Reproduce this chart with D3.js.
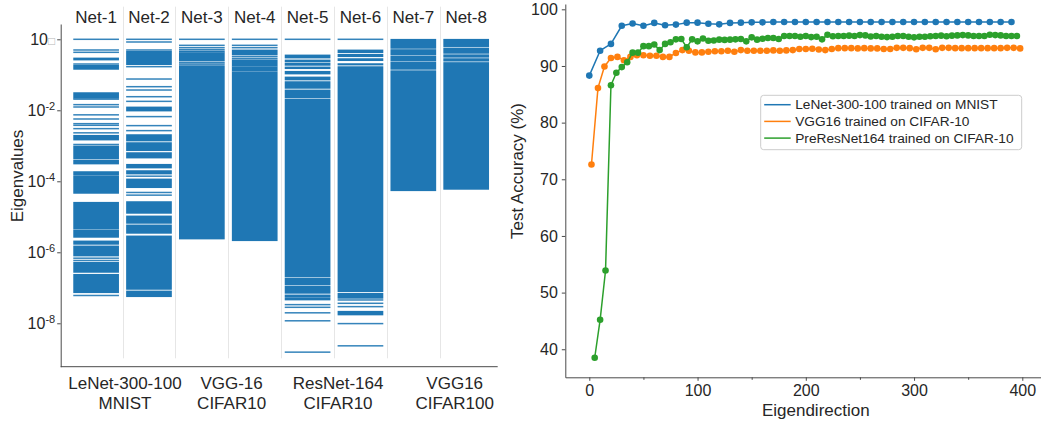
<!DOCTYPE html>
<html>
<head>
<meta charset="utf-8">
<script src="https://cdn.jsdelivr.net/npm/d3@7"></script>
<style>
  html, body { margin: 0; padding: 0; background: #fff; }
  svg { display: block; font-family: "Liberation Sans", Arial, sans-serif; }
</style>
</head>
<body>
<svg id="chart" width="1041" height="421"></svg>
<script>
// ---- left panel: eigenvalue spectra (log10 of eigenvalue) ----
const nets = ['Net-1', 'Net-2', 'Net-3', 'Net-4', 'Net-5', 'Net-6', 'Net-7', 'Net-8'];
const groupLabels = [['LeNet-300-100', 'MNIST'], ['VGG-16', 'CIFAR10'], ['ResNet-164', 'CIFAR10'], ['VGG16', 'CIFAR100']];
const groupAt = [0.545, 2.563, 4.577, 6.783]; // net-index units
const eigTicks = [0, -2, -4, -6, -8];

// single eigenvalues and dense bands [top, bottom]
const net1Lines = [0, -0.301, -0.367, -0.696, -1.686, -1.841, -1.907, -2.128, -2.245, -2.377, -2.423, -2.517, -2.635, -2.963, -6.166, -6.231, -7.217];
const net1Bands = [[-0.527, -0.583], [-0.733, -0.846], [-1.503, -1.663], [-2.705, -2.837], [-3.005, -3.362], [-3.4, -3.512], [-3.728, -3.813], [-3.841, -4.339], [-4.592, -5.343], [-5.372, -5.578], [-5.681, -5.775], [-5.822, -6.104], [-6.283, -6.565], [-6.621, -7.138]];
const net2Lines = [0, -0.076, -0.301, -0.771, -1.119, -1.335, -1.429, -1.617, -1.748, -2.178, -2.432, -2.573, -3.856, -4.315, -4.39];
const net2Bands = [[-0.339, -0.714], [-1.907, -2.02], [-2.686, -2.864], [-2.911, -3.137], [-3.193, -3.344], [-3.522, -3.625], [-3.7, -3.794], [-3.935, -4.179], [-4.573, -4.902], [-4.977, -5.184], [-5.23, -5.465], [-5.54, -7.044], [-7.091, -7.25]];
const net3Lines = [0, -0.17, -0.236, -0.292, -0.658, -0.70];
const net3Bands = [[-0.33, -0.36], [-0.377, -0.611], [-0.743, -5.625]];
const net4Lines = [0, -0.17, -0.236, -0.49, -0.546];
const net4Bands = [[-0.301, -0.442], [-0.583, -0.76], [-0.78, -0.90], [-0.925, -5.673]];
const net5Lines = [0, -7.475, -7.55, -7.705, -7.93, -8.813];
const net5Bands = [[-0.442, -0.527], [-0.583, -0.639], [-0.677, -0.733], [-0.78, -0.827], [-0.902, -0.977], [-1.062, -1.146], [-1.193, -1.381], [-1.428, -1.644], [-1.682, -6.686], [-6.724, -6.911], [-6.949, -7.155], [-7.202, -7.249], [-7.277, -7.343]];
const net6Lines = [0, -7.343, -7.437, -7.531, -8.009, -8.635];
const net6Bands = [[-0.301, -0.376], [-0.423, -0.489], [-0.545, -0.601], [-0.686, -0.724], [-0.771, -7.108], [-7.155, -7.296], [-7.662, -7.765]];
const net7Lines = [];
const net7Bands = [[0, -0.255], [-0.29, -0.445], [-0.48, -0.615], [-0.65, -0.845], [-0.885, -4.265]];
const net8Lines = [];
const net8Bands = [[0, -0.205], [-0.245, -0.395], [-0.435, -0.505], [-0.545, -0.615], [-0.655, -4.226]];

// ---- right panel: test accuracy vs eigendirection ----
const lenetX = [0, 10, 20, 30, 40, 50, 60, 70, 80, 90, 100, 110, 120, 130, 140, 150, 160, 170, 180, 190,
  200, 210, 220, 230, 240, 250, 260, 270, 280, 290, 300, 310, 320, 330, 340, 350, 360, 370, 380, 390];
const lenetAcc = [88.3, 92.7, 93.9, 97.1, 97.5, 97.1, 97.6, 97.2, 97.3, 97.65, 97.65, 97.45, 97.35, 97.6, 97.65, 97.7, 97.7, 97.75, 97.75, 97.75,
  97.75, 97.75, 97.75, 97.75, 97.75, 97.75, 97.75, 97.75, 97.75, 97.75, 97.75, 97.75, 97.75, 97.75, 97.75, 97.75, 97.75, 97.75, 97.75, 97.75];
const vggX = [2, 8, 14, 20, 26, 32, 38, 44, 50, 56, 62, 68, 74, 80, 86, 92, 98, 104, 110, 116, 122, 128, 134, 140, 146, 152,
  158, 164, 170, 176, 182, 188, 194, 200, 206, 212, 218, 224, 230, 236, 242, 248, 254, 260, 266, 272, 278, 284, 290, 296,
  302, 308, 314, 320, 326, 332, 338, 344, 350, 356, 362, 368, 374, 380, 386, 392, 398];
const vggAcc = [72.6, 86.1, 89.9, 91.4, 91.6, 91.0, 91.6, 91.9, 91.9, 91.8, 91.8, 91.6, 91.6, 92.3, 92.8, 92.7, 92.4, 92.4, 92.5, 92.6, 92.6, 92.7, 92.5, 92.8, 92.7, 92.7,
  92.7, 92.7, 92.75, 92.7, 92.75, 92.8, 93.0, 93.0, 93.05, 92.9, 92.8, 93.0, 93.15, 93.15, 93.15, 93.1, 93.15, 93.1, 93.1, 93.0, 93.0, 93.2, 93.2, 93.15,
  92.95, 93.2, 93.2, 92.95, 93.2, 93.2, 93.15, 93.15, 93.15, 93.15, 93.15, 93.15, 93.15, 93.15, 93.2, 93.2, 93.1];
const resX = [5, 10, 15, 20, 25, 30, 35, 40, 45, 50, 55, 60, 65, 70, 75, 80, 85, 90, 95, 100,
  105, 110, 115, 120, 125, 130, 135, 140, 145, 150, 155, 160, 165, 170, 175, 180, 185, 190, 195, 200,
  205, 210, 215, 220, 225, 230, 235, 240, 245, 250, 255, 260, 265, 270, 275, 280, 285, 290, 295, 300,
  305, 310, 315, 320, 325, 330, 335, 340, 345, 350, 355, 360, 365, 370, 375, 380, 385, 390, 395];
const resAcc = [38.5, 45.2, 53.9, 86.6, 88.8, 89.8, 90.65, 92.35, 92.35, 93.5, 93.5, 93.8, 92.8, 93.9, 94.2, 94.7, 94.75, 93.3, 94.7, 94.35,
  94.85, 94.45, 94.5, 94.65, 94.6, 94.65, 94.7, 94.75, 94.35, 95.05, 94.65, 94.8, 94.95, 94.95, 94.75, 95.3, 95.3, 95.3, 95.15, 95.3,
  95.1, 95.15, 94.7, 95.5, 95.25, 95.3, 95.3, 95.35, 95.3, 95.45, 95.4, 95.2, 95.3, 95.15, 95.1, 95.15, 95.3, 95.3, 95.15, 95.05,
  95.15, 95.15, 95.25, 95.3, 95.35, 95.25, 95.35, 95.4, 95.45, 95.4, 95.3, 95.3, 95.3, 95.5, 95.45, 95.4, 95.3, 95.3, 95.3];
const seriesNames = ['LeNet-300-100 trained on MNIST', 'VGG16 trained on CIFAR-10', 'PreResNet164 trained on CIFAR-10'];
const seriesColors = ['#1f77b4', '#ff7f0e', '#2ca02c'];
const accTicks = [40, 50, 60, 70, 80, 90, 100];
const dirTicks = [0, 100, 200, 300, 400];
const dirMinor = [50, 150, 250, 350];

const spectra = [
  { lines: net1Lines, bands: net1Bands }, { lines: net2Lines, bands: net2Bands },
  { lines: net3Lines, bands: net3Bands }, { lines: net4Lines, bands: net4Bands },
  { lines: net5Lines, bands: net5Bands }, { lines: net6Lines, bands: net6Bands },
  { lines: net7Lines, bands: net7Bands }, { lines: net8Lines, bands: net8Bands }
];
const series = [
  { x: lenetX, y: lenetAcc }, { x: vggX, y: vggAcc }, { x: resX, y: resAcc }
];

const svg = d3.select('#chart');
const ink = '#262626';
const spine = '#4a4a4a';
const barBlue = '#1f77b4';

svg.append('rect').attr('width', 1041).attr('height', 421).attr('fill', '#fff');

// ================= left panel =================
const xL = d3.scaleBand().domain(nets).range([66.1, 496.2]).padding(0.1356);
const yL = d3.scaleLog().domain([Math.pow(10, -9.223), Math.pow(10, 0.431)]).range([366.7, 24]);
const ey = e => yL(Math.pow(10, e));
const gapHalf = xL.step() * xL.padding() / 2;

const left = svg.append('g');

// light separators between nets
left.selectAll('line.sep')
  .data(nets.slice(1))
  .enter().append('line')
  .attr('class', 'sep')
  .attr('x1', d => Math.round(xL(d) - gapHalf) + 0.5)
  .attr('x2', d => Math.round(xL(d) - gapHalf) + 0.5)
  .attr('y1', 6.7)
  .attr('y2', 358.3)
  .attr('stroke', '#e6e6e6')
  .attr('stroke-width', 1);

const netG = left.selectAll('g.net')
  .data(spectra)
  .enter().append('g')
  .attr('class', 'net')
  .attr('transform', (d, i) => `translate(${xL(nets[i])},0)`);

netG.selectAll('rect.band')
  .data(d => d.bands)
  .enter().append('rect')
  .attr('class', 'band')
  .attr('x', 0)
  .attr('width', xL.bandwidth())
  .attr('y', d => ey(d[0]) - 0.4)
  .attr('height', d => ey(d[1]) - ey(d[0]) + 0.8)
  .attr('fill', barBlue);

netG.selectAll('rect.eig')
  .data(d => d.lines)
  .enter().append('rect')
  .attr('class', 'eig')
  .attr('x', 0)
  .attr('width', xL.bandwidth())
  .attr('y', d => ey(d) - 0.75)
  .attr('height', 1.5)
  .attr('fill', barBlue)
  .attr('opacity', 0.9);

// net labels on top
left.selectAll('text.netlab')
  .data(nets)
  .enter().append('text')
  .attr('class', 'netlab')
  .attr('x', d => xL(d) + xL.bandwidth() / 2)
  .attr('y', 22.5)
  .attr('text-anchor', 'middle')
  .attr('font-size', 17)
  .attr('fill', ink)
  .text(d => d);

// y axis with 10^k labels
const axL = left.append('g')
  .attr('transform', 'translate(60.7,0)')
  .call(d3.axisLeft(yL)
    .tickValues(eigTicks.map(e => Math.pow(10, e)))
    .tickSize(3.5)
    .tickSizeOuter(0)
    .tickPadding(2)
    .tickFormat(() => '10'));
axL.select('.domain').attr('stroke', spine);
axL.selectAll('.tick line').attr('stroke', spine);
axL.selectAll('.tick text')
  .attr('font-size', 16)
  .attr('font-family', '"Liberation Sans", Arial, sans-serif')
  .attr('fill', ink)
  .each(function (d, i) {
    const t = d3.select(this);
    const ex = eigTicks[i];
    if (ex === 0) {
      t.append('tspan').attr('font-size', 12).attr('fill', '#b8b8b8').text('\u25A1');
    } else {
      t.append('tspan').attr('dy', '-0.55em').attr('font-size', 11).text(String(ex));
    }
  });

// bottom spine
left.append('line')
  .attr('x1', 60.7).attr('x2', 497.7)
  .attr('y1', 366.7).attr('y2', 366.7)
  .attr('stroke', spine);

// group labels under the panel
const grpG = left.selectAll('text.grp')
  .data(groupLabels)
  .enter().append('text')
  .attr('class', 'grp')
  .attr('text-anchor', 'middle')
  .attr('font-size', 17)
  .attr('fill', ink);
grpG.append('tspan')
  .attr('x', (d, i) => xL(nets[0]) + xL.bandwidth() / 2 + groupAt[i] * xL.step())
  .attr('y', 389)
  .text(d => d[0]);
grpG.append('tspan')
  .attr('x', (d, i) => xL(nets[0]) + xL.bandwidth() / 2 + groupAt[i] * xL.step())
  .attr('y', 409)
  .text(d => d[1]);

left.append('text')
  .attr('transform', 'translate(23,176) rotate(-90)')
  .attr('text-anchor', 'middle')
  .attr('font-size', 17)
  .attr('fill', ink)
  .text('Eigenvalues');

// ================= right panel =================
const xR = d3.scaleLinear().domain([-22.17, 440]).range([565.3, 1065.6]);
const yR = d3.scaleLinear().domain([35.05, 100.94]).range([377.3, 4]);
const right = svg.append('g');

const axX = right.append('g')
  .attr('transform', 'translate(0,377.3)')
  .call(d3.axisBottom(xR).tickValues(dirTicks).tickSize(3.5).tickSizeOuter(0).tickPadding(4));
right.append('g')
  .attr('transform', 'translate(0,377.3)')
  .call(d3.axisBottom(xR).tickValues(dirMinor).tickSize(2.5).tickFormat(() => ''))
  .call(g => g.select('.domain').remove())
  .selectAll('line').attr('stroke', spine);
const axY = right.append('g')
  .attr('transform', 'translate(565.3,0)')
  .call(d3.axisLeft(yR).tickValues(accTicks).tickSize(3.5).tickSizeOuter(0).tickPadding(4));
[axX, axY].forEach(a => {
  a.select('.domain').attr('stroke', spine);
  a.selectAll('.tick line').attr('stroke', spine);
  a.selectAll('.tick text')
    .attr('font-size', 16)
    .attr('font-family', '"Liberation Sans", Arial, sans-serif')
    .attr('fill', ink);
});

const line = d3.line().x(d => xR(d[0])).y(d => yR(d[1]));
series.forEach((s, i) => {
  const pts = s.x.map((x, j) => [x, s.y[j]]);
  right.append('path')
    .datum(pts)
    .attr('fill', 'none')
    .attr('stroke', seriesColors[i])
    .attr('stroke-width', 1.5)
    .attr('stroke-linejoin', 'round')
    .attr('d', line);
  right.selectAll(null)
    .data(pts)
    .enter().append('circle')
    .attr('cx', d => xR(d[0]))
    .attr('cy', d => yR(d[1]))
    .attr('r', 3.3)
    .attr('fill', seriesColors[i]);
});

right.append('text')
  .attr('x', 815.8)
  .attr('y', 415.5)
  .attr('text-anchor', 'middle')
  .attr('font-size', 17)
  .attr('fill', ink)
  .text('Eigendirection');

right.append('text')
  .attr('transform', 'translate(523,171) rotate(-90)')
  .attr('text-anchor', 'middle')
  .attr('font-size', 17)
  .attr('fill', ink)
  .text('Test Accuracy (%)');

// legend
const lg = right.append('g').attr('transform', 'translate(760.7,95.3)');
lg.append('rect')
  .attr('width', 261).attr('height', 54.4)
  .attr('rx', 3)
  .attr('fill', '#fff').attr('fill-opacity', 0.8)
  .attr('stroke', '#cccccc');
const li = lg.selectAll('g.item')
  .data(seriesNames)
  .enter().append('g')
  .attr('class', 'item')
  .attr('transform', (d, i) => `translate(0,${9.4 + i * 16.7})`);
li.append('line')
  .attr('x1', 3.5).attr('x2', 30)
  .attr('stroke', (d, i) => seriesColors[i])
  .attr('stroke-width', 1.5);
li.append('text')
  .attr('x', 34.5)
  .attr('dy', '0.35em')
  .attr('font-size', 13.7)
  .attr('fill', ink)
  .text(d => d);
</script>
</body>
</html>
